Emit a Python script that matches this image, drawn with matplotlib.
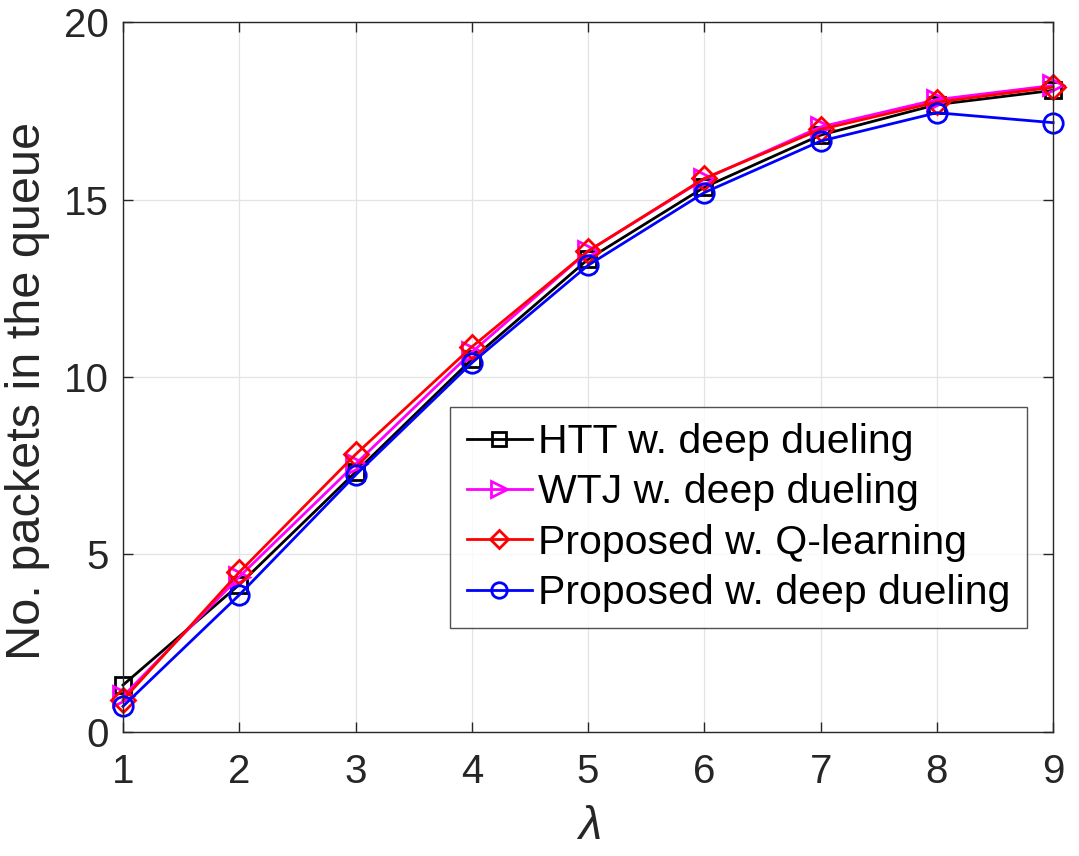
import matplotlib
matplotlib.use("Agg")
import matplotlib.pyplot as plt

plt.rcParams['font.family'] = ['Liberation Sans', 'DejaVu Sans']
plt.rcParams['mathtext.fontset'] = 'custom'
plt.rcParams['mathtext.it'] = 'Liberation Sans:italic'

lam = [1, 2, 3, 4, 5, 6, 7, 8, 9]
htt = [1.32, 4.15, 7.32, 10.5, 13.32, 15.35, 16.82, 17.68, 18.08]
wtj = [1.0, 4.37, 7.55, 10.7, 13.55, 15.58, 17.05, 17.82, 18.22]
qlearn = [0.9, 4.5, 7.82, 10.85, 13.55, 15.6, 16.98, 17.75, 18.17]
dueling = [0.72, 3.86, 7.24, 10.4, 13.15, 15.2, 16.65, 17.45, 17.17]

labels = ['HTT w. deep dueling', 'WTJ w. deep dueling',
          'Proposed w. Q-learning', 'Proposed w. deep dueling']

fig = plt.figure(figsize=(10.79, 8.56), dpi=100)
ax = fig.add_axes([0.114, 0.145, 0.862, 0.829])

lw = 2.0
kw = dict(mfc='none', mew=lw, lw=lw, clip_on=False)
ax.plot(lam, htt, color='black', marker='s', ms=12, label=labels[0], **kw)
ax.plot(lam, wtj, color='magenta', marker='>', ms=14, label=labels[1], **kw)
ax.plot(lam, qlearn, color='red', marker='D', ms=12, label=labels[2], **kw)
ax.plot(lam, dueling, color='blue', marker='o', ms=14, label=labels[3], **kw)

ax.set_xlim(1, 9)
ax.set_ylim(0, 20)
ax.set_xticks(lam)
ax.set_yticks([0, 5, 10, 15, 20])
ax.grid(True, color='#e3e3e3', lw=0.9)
ax.set_axisbelow(True)
ax.tick_params(direction='in', labelsize=29, length=7, width=1, colors='#262626',
               top=True, right=True)
ax.tick_params(axis='x', pad=15)
ax.tick_params(axis='y', pad=10)
for s in ax.spines.values():
    s.set_color('#262626')
    s.set_linewidth(1)

ax.set_xlabel(r'$\lambda$', fontsize=34, color='#262626', labelpad=10)
ax.set_ylabel('No. packets in the queue', fontsize=35, color='#262626')
ax.yaxis.set_label_coords(-0.078, 0.48)

leg = ax.legend(loc='lower right', bbox_to_anchor=(0.972, 0.146), fontsize=29.5,
                frameon=True, fancybox=False, edgecolor='#262626', markerscale=0.8,
                handlelength=1.6, handletextpad=0.15, borderpad=0.4, labelspacing=0.3,
                borderaxespad=0)
leg.get_frame().set_linewidth(1)

fig.savefig('out.png', dpi=100)
